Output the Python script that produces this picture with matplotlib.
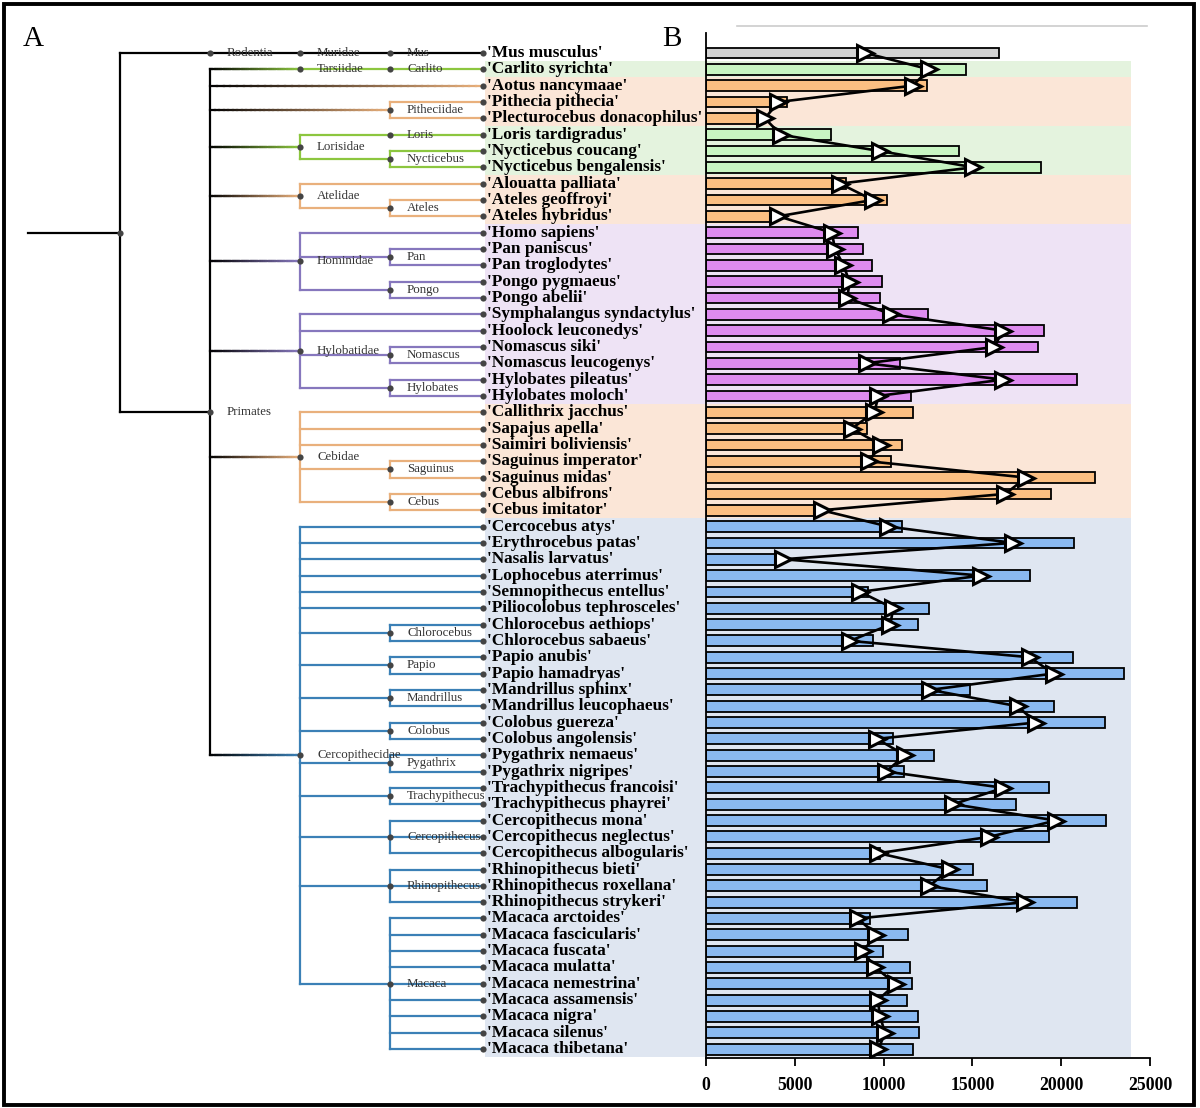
import numpy as np
import matplotlib
matplotlib.use("Agg")
import matplotlib.pyplot as plt
import matplotlib.colors as mcolors
from matplotlib.collections import LineCollection
from matplotlib.patches import Rectangle
from matplotlib.lines import Line2D

# ---------------- data ----------------
species = [
    "Mus musculus", "Carlito syrichta", "Aotus nancymaae", "Pithecia pithecia",
    "Plecturocebus donacophilus", "Loris tardigradus", "Nycticebus coucang",
    "Nycticebus bengalensis", "Alouatta palliata", "Ateles geoffroyi", "Ateles hybridus",
    "Homo sapiens", "Pan paniscus", "Pan troglodytes", "Pongo pygmaeus", "Pongo abelii",
    "Symphalangus syndactylus", "Hoolock leuconedys", "Nomascus siki", "Nomascus leucogenys",
    "Hylobates pileatus", "Hylobates moloch", "Callithrix jacchus", "Sapajus apella",
    "Saimiri boliviensis", "Saguinus imperator", "Saguinus midas", "Cebus albifrons",
    "Cebus imitator", "Cercocebus atys", "Erythrocebus patas", "Nasalis larvatus",
    "Lophocebus aterrimus", "Semnopithecus entellus", "Piliocolobus tephrosceles",
    "Chlorocebus aethiops", "Chlorocebus sabaeus", "Papio anubis", "Papio hamadryas",
    "Mandrillus sphinx", "Mandrillus leucophaeus", "Colobus guereza", "Colobus angolensis",
    "Pygathrix nemaeus", "Pygathrix nigripes", "Trachypithecus francoisi",
    "Trachypithecus phayrei", "Cercopithecus mona", "Cercopithecus neglectus",
    "Cercopithecus albogularis", "Rhinopithecus bieti", "Rhinopithecus roxellana",
    "Rhinopithecus strykeri", "Macaca arctoides", "Macaca fascicularis", "Macaca fuscata",
    "Macaca mulatta", "Macaca nemestrina", "Macaca assamensis", "Macaca nigra",
    "Macaca silenus", "Macaca thibetana",
]

bar_values = [
    16470, 14630, 12470, 4580, 2850, 7040, 14220, 18840, 7870, 10180, 3600,
    8540, 8850, 9350, 9900, 9800, 12490, 19020, 18680, 10930, 20900, 11550,
    11630, 9050, 11040, 10390, 21920, 19440, 6140,
    11060, 20730, 4020, 18220, 9110, 12530, 11910, 9390, 20640, 23550,
    14870, 19610, 22440, 10550, 12810, 11150, 19340, 17430, 22540, 19340,
    9770, 15020, 15830, 20880, 9240, 11400, 9970, 11490, 11590, 11340,
    11940, 11980, 11650,
]

marker_values = [
    8960, 12570, 11630, 4080, 3320, 4200, 9770, 15060, 7550, 9390, 4080,
    7080, 7270, 7740, 8080, 7960, 10420, 16710, 16240, 9050, 16710, 9710,
    9480, 8200, 9860, 9150, 18030, 16850, 6520,
    10270, 17280, 4360, 15470, 8680, 10550, 10370, 8110, 18220, 19570,
    12620, 17540, 18570, 9620, 11210, 10140, 16750, 13930, 19700, 15960,
    9710, 13750, 12570, 17970, 8540, 9580, 8830, 9520, 10690, 9670,
    9800, 10080, 9710,
]

# consecutive row groups (clade, number of rows)
group_names = ["Rodentia", "Tarsiidae", "Aotidae/Pitheciidae", "Lorisidae",
               "Atelidae", "Hominoidea", "Cebidae", "Cercopithecidae"]
group_counts = [1, 1, 3, 3, 3, 11, 7, 33]

tick_values = [0, 5000, 10000, 15000, 20000, 25000]

# tree: (label, level, children); leaves are species strings
tree = ("", 0, [
    ("Rodentia", 1, [("Muridae", 2, [("Mus", 3, ["Mus musculus"])])]),
    ("Primates", 1, [
        ("Tarsiidae", 2, [("Carlito", 3, ["Carlito syrichta"])]),
        "Aotus nancymaae",
        ("Pitheciidae", 3, ["Pithecia pithecia", "Plecturocebus donacophilus"]),
        ("Lorisidae", 2, [("Loris", 3, ["Loris tardigradus"]),
                          ("Nycticebus", 3, ["Nycticebus coucang", "Nycticebus bengalensis"])]),
        ("Atelidae", 2, ["Alouatta palliata",
                         ("Ateles", 3, ["Ateles geoffroyi", "Ateles hybridus"])]),
        ("Hominidae", 2, ["Homo sapiens",
                          ("Pan", 3, ["Pan paniscus", "Pan troglodytes"]),
                          ("Pongo", 3, ["Pongo pygmaeus", "Pongo abelii"])]),
        ("Hylobatidae", 2, ["Symphalangus syndactylus", "Hoolock leuconedys",
                            ("Nomascus", 3, ["Nomascus siki", "Nomascus leucogenys"]),
                            ("Hylobates", 3, ["Hylobates pileatus", "Hylobates moloch"])]),
        ("Cebidae", 2, ["Callithrix jacchus", "Sapajus apella", "Saimiri boliviensis",
                        ("Saguinus", 3, ["Saguinus imperator", "Saguinus midas"]),
                        ("Cebus", 3, ["Cebus albifrons", "Cebus imitator"])]),
        ("Cercopithecidae", 2, [
            "Cercocebus atys", "Erythrocebus patas", "Nasalis larvatus",
            "Lophocebus aterrimus", "Semnopithecus entellus", "Piliocolobus tephrosceles",
            ("Chlorocebus", 3, ["Chlorocebus aethiops", "Chlorocebus sabaeus"]),
            ("Papio", 3, ["Papio anubis", "Papio hamadryas"]),
            ("Mandrillus", 3, ["Mandrillus sphinx", "Mandrillus leucophaeus"]),
            ("Colobus", 3, ["Colobus guereza", "Colobus angolensis"]),
            ("Pygathrix", 3, ["Pygathrix nemaeus", "Pygathrix nigripes"]),
            ("Trachypithecus", 3, ["Trachypithecus francoisi", "Trachypithecus phayrei"]),
            ("Cercopithecus", 3, ["Cercopithecus mona", "Cercopithecus neglectus",
                                  "Cercopithecus albogularis"]),
            ("Rhinopithecus", 3, ["Rhinopithecus bieti", "Rhinopithecus roxellana",
                                  "Rhinopithecus strykeri"]),
            ("Macaca", 3, ["Macaca arctoides", "Macaca fascicularis", "Macaca fuscata",
                           "Macaca mulatta", "Macaca nemestrina", "Macaca assamensis",
                           "Macaca nigra", "Macaca silenus", "Macaca thibetana"]),
        ]),
    ]),
])

# ---------------- styles ----------------
GREEN, ORANGE, PURPLE, BLUE = "#8cc63f", "#e9b07c", "#8677bd", "#3b80b6"
branch_color = {"Tarsiidae": GREEN, "Aotus nancymaae": ORANGE, "Pitheciidae": ORANGE,
                "Lorisidae": GREEN, "Atelidae": ORANGE, "Hominidae": PURPLE,
                "Hylobatidae": PURPLE, "Cebidae": ORANGE, "Cercopithecidae": BLUE}
bar_color = {"Rodentia": "#d3d3d3", "Tarsiidae": "#c8f5c2", "Aotidae/Pitheciidae": "#fbbf82",
             "Lorisidae": "#c8f5c2", "Atelidae": "#fbbf82", "Hominoidea": "#de8bef",
             "Cebidae": "#fbbf82", "Cercopithecidae": "#8ab9f0"}
band_color = {"Rodentia": None, "Tarsiidae": "#e4f3de", "Aotidae/Pitheciidae": "#fbe6d7",
              "Lorisidae": "#e4f3de", "Atelidae": "#fbe6d7", "Hominoidea": "#eee3f5",
              "Cebidae": "#fbe6d7", "Cercopithecidae": "#dfe6f1"}

SERIF = ["Liberation Serif", "DejaVu Serif"]
W, H = 1200, 1108
ROW0, ROWH = 53.0, 16.33          # pixel y of first row, row spacing
LEVEL_X = {0: 120, 1: 210, 2: 300, 3: 390}
LEAF_X = 483

fig = plt.figure(figsize=(W / 100, H / 100), dpi=100)

def px_to_row(py):
    return (py - ROW0) / ROWH

# tree axes spanning whole figure; x in pixels, y in row units
axT = fig.add_axes([0, 0, 1, 1])
axT.set_xlim(0, W)
axT.set_ylim(px_to_row(H), px_to_row(0))
axT.axis("off")
axT.set_zorder(0)

row_of = {s: i for i, s in enumerate(species)}
row_groups = []
for g, c in zip(group_names, group_counts):
    row_groups += [g] * c

# background bands
start = 0
for g, c in zip(group_names, group_counts):
    if band_color[g]:
        axT.add_patch(Rectangle((485, start - 0.5), 1131 - 485, c,
                                facecolor=band_color[g], edgecolor="none", zorder=0))
    start += c

segs, cols = [], []
dots = []

def add_line(x0, x1, y, c0, c1=None):
    if c1 is None or c1 == c0:
        segs.append([(x0, y), (x1, y)]); cols.append(mcolors.to_rgba(c0))
        return
    n = 40
    xs = np.linspace(x0, x1, n + 1)
    a, b = np.array(mcolors.to_rgba(c0)), np.array(mcolors.to_rgba(c1))
    for k in range(n):
        t = (k + 0.5) / n
        segs.append([(xs[k], y), (xs[k + 1], y)])
        cols.append(tuple(a + (b - a) * t))

def node_y(n):
    if isinstance(n, str):
        return row_of[n]
    return 0.5 * (node_y(n[2][0]) + node_y(n[2][-1]))

def draw(n, parent_x, color, grad):
    y = node_y(n)
    if isinstance(n, str):
        x = LEAF_X
    else:
        x = LEVEL_X[n[1]]
    if parent_x is not None:
        if grad:
            add_line(parent_x, x, y, "black", color)
        else:
            add_line(parent_x, x, y, color)
    if isinstance(n, str):
        dots.append((x, y))
        axT.text(x + 4, y, "'" + n + "'", ha="left", va="center", fontsize=12.4,
                 fontweight="bold", family=SERIF, color="black", zorder=5)
        return
    label, level, children = n
    ys = [node_y(c) for c in children]
    if len(children) > 1:
        segs.append([(x, min(ys)), (x, max(ys))]); cols.append(mcolors.to_rgba(color))
    dots.append((x, y))
    if label:
        axT.text(x + 17, y, label, ha="left", va="center", fontsize=9.3,
                 family=SERIF, color="#333333", zorder=5)
    for c in children:
        if label == "Primates":
            key = c if isinstance(c, str) else c[0]
            draw(c, x, branch_color[key], True)
        else:
            draw(c, x, color, False)

# root stub
add_line(28, LEVEL_X[0], node_y(tree), "black")
draw(tree, None, "black", False)

axT.add_collection(LineCollection(segs, colors=cols, linewidths=1.6,
                                  capstyle="projecting", zorder=2))
dx, dy = zip(*dots)
axT.scatter(dx, dy, s=20, color="#444444", zorder=3, linewidths=0)

# ---------------- bar axes ----------------
top_px, bot_px, left_px, right_px = 33, 1058, 706, 1150
axB = fig.add_axes([left_px / W, 1 - bot_px / H, (right_px - left_px) / W,
                    (bot_px - top_px) / H])
axB.set_facecolor("none")
axB.set_zorder(2)
rows = np.arange(len(species))
axB.barh(rows, bar_values, height=0.66,
         color=[bar_color[g] for g in row_groups], edgecolor="black",
         linewidth=1.3, zorder=2)
axB.plot(marker_values, rows, color="black", lw=1.9, zorder=3)
axB.plot(marker_values, rows, linestyle="none", marker=">", markersize=11.5,
         markerfacecolor="white", markeredgecolor="black", markeredgewidth=2.2, zorder=4)
axB.set_xlim(0, 25000)
axB.set_ylim(px_to_row(bot_px), px_to_row(top_px))
axB.set_yticks([])
axB.set_xticks(tick_values)
axB.set_xticklabels([str(v) for v in tick_values], fontsize=12.8, fontweight="bold",
                    family=SERIF)
axB.tick_params(axis="x", direction="out", length=6, width=1.3, pad=8)
for s in ["top", "right"]:
    axB.spines[s].set_visible(False)
for s in ["left", "bottom"]:
    axB.spines[s].set_linewidth(1.3)

# panel letters, border, faint top line
fig.text(23 / W, 1 - 46 / H, "A", fontsize=21, family=SERIF, ha="left", va="baseline")
fig.text(662 / W, 1 - 46 / H, "B", fontsize=21, family=SERIF, ha="left", va="baseline")
fig.add_artist(Line2D([737 / W, 1147 / W], [1 - 26 / H] * 2, color="#cccccc", lw=1.2))
fig.add_artist(Rectangle((4 / W, 3 / H), (1194 - 4) / W, (1104 - 3) / H,
                         transform=fig.transFigure, fill=False, lw=2.8, ec="black"))

fig.savefig("out.png", dpi=100)
